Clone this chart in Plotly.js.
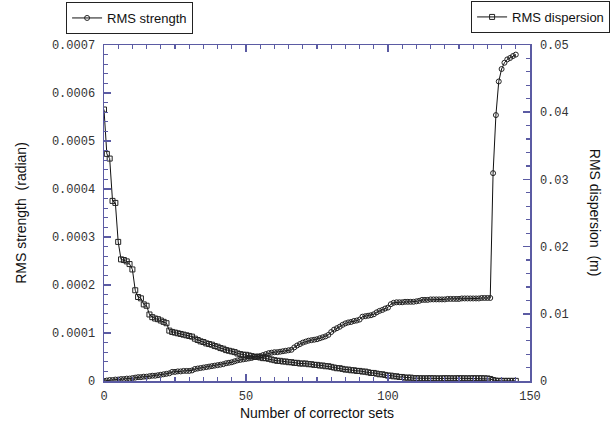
<!DOCTYPE html>
<html>
<head>
<meta charset="utf-8">
<script src="https://cdn.plot.ly/plotly-3.0.1.min.js"></script>
<style>html,body{margin:0;padding:0;background:#fff;}#chart{width:616px;height:427px;}</style>
</head>
<body>
<div id="chart"></div>
<script>
// RMS strength (radian), one value per corrector-set count (0..145)
const rmsStrength = [
  0, 0.000001, 0.000002, 0.000002, 0.000003, 0.000003, 0.000004, 0.000004, 0.000005, 0.000005,
  0.000006, 0.000007, 0.000008, 0.000008, 0.000009, 0.000009, 0.000010, 0.000011, 0.000011, 0.000012,
  0.000013, 0.000014, 0.000015, 0.000016, 0.000019, 0.000019, 0.000020, 0.000020, 0.000021, 0.000021,
  0.000021, 0.000022, 0.000025, 0.000026, 0.000027, 0.000028, 0.000029, 0.000030, 0.000031, 0.000032,
  0.000033, 0.000034, 0.000035, 0.000037, 0.000038, 0.000039, 0.000041, 0.000043, 0.000044, 0.000045,
  0.000046, 0.000047, 0.000048, 0.000050, 0.000051, 0.000052, 0.000054, 0.000056, 0.000058, 0.000059,
  0.000060, 0.000060, 0.000061, 0.000062, 0.000063, 0.000064, 0.000065, 0.000070, 0.000074, 0.000077,
  0.000080, 0.000082, 0.000084, 0.000085, 0.000086, 0.000087, 0.000089, 0.000091, 0.000093, 0.000096,
  0.000102, 0.000107, 0.000110, 0.000113, 0.000117, 0.000120, 0.000122, 0.000123, 0.000125, 0.000126,
  0.000128, 0.000134, 0.000135, 0.000136, 0.000137, 0.000139, 0.000143, 0.000146, 0.000148, 0.000151,
  0.000153, 0.000160, 0.000163, 0.000164, 0.000164, 0.000164, 0.000165, 0.000165, 0.000165, 0.000165,
  0.000166, 0.000167, 0.000169, 0.000169, 0.000169, 0.000170, 0.000170, 0.000170, 0.000170, 0.000170,
  0.000170, 0.000171, 0.000171, 0.000171, 0.000171, 0.000171, 0.000172, 0.000172, 0.000172, 0.000172,
  0.000172, 0.000172, 0.000172, 0.000173, 0.000173, 0.000173, 0.000173, 0.000433, 0.000554, 0.000624,
  0.000650, 0.000663, 0.000670, 0.000673, 0.000677, 0.000680
];

// RMS dispersion (m), one value per corrector-set count (0..145)
const rmsDispersion = [
  0.0404, 0.0338, 0.0331, 0.0268, 0.0265, 0.0207, 0.0181, 0.0180, 0.0178, 0.0174,
  0.0166, 0.0135, 0.0125, 0.0123, 0.0114, 0.0112, 0.0099, 0.0095, 0.0093, 0.0092,
  0.0090, 0.0088, 0.0086, 0.0075, 0.0073, 0.0072, 0.0071, 0.0070, 0.0069, 0.0068,
  0.0067, 0.0066, 0.0063, 0.0061, 0.0059, 0.0058, 0.0056, 0.0055, 0.0054, 0.0052,
  0.0051, 0.0049, 0.0048, 0.0046, 0.0045, 0.0044, 0.0043, 0.0041, 0.0040, 0.0039,
  0.0039, 0.0038, 0.0037, 0.0036, 0.0036, 0.0035, 0.0034, 0.0034, 0.0033, 0.0032,
  0.0031, 0.0030, 0.0030, 0.0029, 0.0029, 0.0028, 0.0028, 0.0027, 0.0027, 0.0026,
  0.0026, 0.0026, 0.0025, 0.0025, 0.0024, 0.0024, 0.0023, 0.0023, 0.0022, 0.0022,
  0.0021, 0.0020, 0.0019, 0.0019, 0.0018, 0.0017, 0.0017, 0.0016, 0.0016, 0.0015,
  0.0015, 0.0014, 0.0014, 0.0013, 0.0012, 0.0012, 0.0011, 0.0010, 0.0010, 0.0009,
  0.0008, 0.0008, 0.0007, 0.0007, 0.0006, 0.0006, 0.0005, 0.0005, 0.0005, 0.0004,
  0.00042, 0.00040, 0.00040, 0.00039, 0.00040, 0.00041, 0.00040, 0.00039, 0.00038, 0.00040,
  0.00041, 0.00040, 0.00040, 0.00039, 0.00040, 0.00041, 0.00040, 0.00040, 0.00039, 0.00040,
  0.00041, 0.00040, 0.00040, 0.00041, 0.00039, 0.00038, 0.00030, 0.00015, 0.00005, 0.00002,
  0.00002, 0.00002, 0.00002, 0.00002, 0.00002, 0.00002
];

const correctorSets = rmsStrength.map((_, i) => i);

const strengthName = "RMS strength";
const dispersionName = "RMS dispersion";
const xTitle = "Number of corrector sets";
const yTitle = "RMS strength\u00a0 (radian)";
const y2Title = "RMS dispersion\u00a0 (m)";

const axisColor = "#5b5ba3";
const monoFont = {family: "Liberation Mono, Courier New, monospace", size: 12, color: "#333"};
const sansFont = {family: "Liberation Sans, Arial, sans-serif", size: 14, color: "#111"};
const legendFont = {family: "Liberation Sans, Arial, sans-serif", size: 13, color: "#111"};

const traces = [
  {
    x: correctorSets, y: rmsStrength, name: strengthName, type: "scatter", mode: "lines+markers",
    yaxis: "y", legend: "legend",
    line: {color: "#111", width: 1},
    marker: {symbol: "circle-open", size: 5, color: "#222", line: {width: 1, color: "#222"}}
  },
  {
    x: correctorSets, y: rmsDispersion, name: dispersionName, type: "scatter", mode: "lines+markers",
    yaxis: "y2", legend: "legend2",
    line: {color: "#111", width: 1},
    marker: {symbol: "square-open", size: 5, color: "#222", line: {width: 1, color: "#222"}}
  }
];

const layout = {
  width: 616, height: 427,
  margin: {l: 104, r: 86, t: 45, b: 46, autoexpand: false},
  paper_bgcolor: "#fff", plot_bgcolor: "#fff",
  font: {family: "Liberation Sans, Arial, sans-serif", size: 12, color: "#111"},
  xaxis: {
    range: [0, 150], dtick: 50, tick0: 0, ticks: "inside", ticklen: 7, tickwidth: 1.5, tickcolor: axisColor,
    showline: true, linecolor: axisColor, linewidth: 1.5, mirror: "ticks", showgrid: false, zeroline: false,
    minor: {dtick: 5, ticks: "inside", ticklen: 4, tickwidth: 1.2, tickcolor: axisColor, showgrid: false},
    tickfont: monoFont, ticklabelstandoff: 3,
    title: {text: xTitle, font: sansFont, standoff: 5}
  },
  yaxis: {
    range: [0, 0.0007], dtick: 0.0001, tick0: 0, tickformat: ".4~f", ticks: "inside", ticklen: 7, tickwidth: 1.5,
    tickcolor: axisColor, showline: true, linecolor: axisColor, linewidth: 1.5, showgrid: false, zeroline: false,
    minor: {dtick: 0.00002, ticks: "inside", ticklen: 4, tickwidth: 1.2, tickcolor: axisColor, showgrid: false},
    tickfont: monoFont, ticklabelstandoff: 5,
    title: {text: yTitle, font: sansFont, standoff: 22}
  },
  yaxis2: {
    overlaying: "y", side: "right",
    range: [0, 0.05], dtick: 0.01, tick0: 0, tickformat: ".2~f", ticks: "inside", ticklen: 7, tickwidth: 1.5,
    tickcolor: axisColor, showline: true, linecolor: axisColor, linewidth: 1.5, showgrid: false, zeroline: false,
    minor: {dtick: 0.002, ticks: "inside", ticklen: 4, tickwidth: 1.2, tickcolor: axisColor, showgrid: false},
    tickfont: monoFont, ticklabelstandoff: 6
  },
  annotations: [
    {text: y2Title, xref: "paper", yref: "paper", x: 1.153, y: 0.5, textangle: 90, showarrow: false,
     font: sansFont, xanchor: "center", yanchor: "middle"}
  ],
  legend: {
    x: -0.089, y: 1.128, xanchor: "left", yanchor: "top", bgcolor: "#fff", bordercolor: "#222", borderwidth: 1,
    font: legendFont, itemwidth: 30, tracegroupgap: 0
  },
  legend2: {
    x: 1.188, y: 1.131, xanchor: "right", yanchor: "top", bgcolor: "#fff", bordercolor: "#222", borderwidth: 1,
    font: legendFont, itemwidth: 30, tracegroupgap: 0
  },
  showlegend: true
};

Plotly.newPlot("chart", traces, layout, {displayModeBar: false, staticPlot: true});
</script>
</body>
</html>
